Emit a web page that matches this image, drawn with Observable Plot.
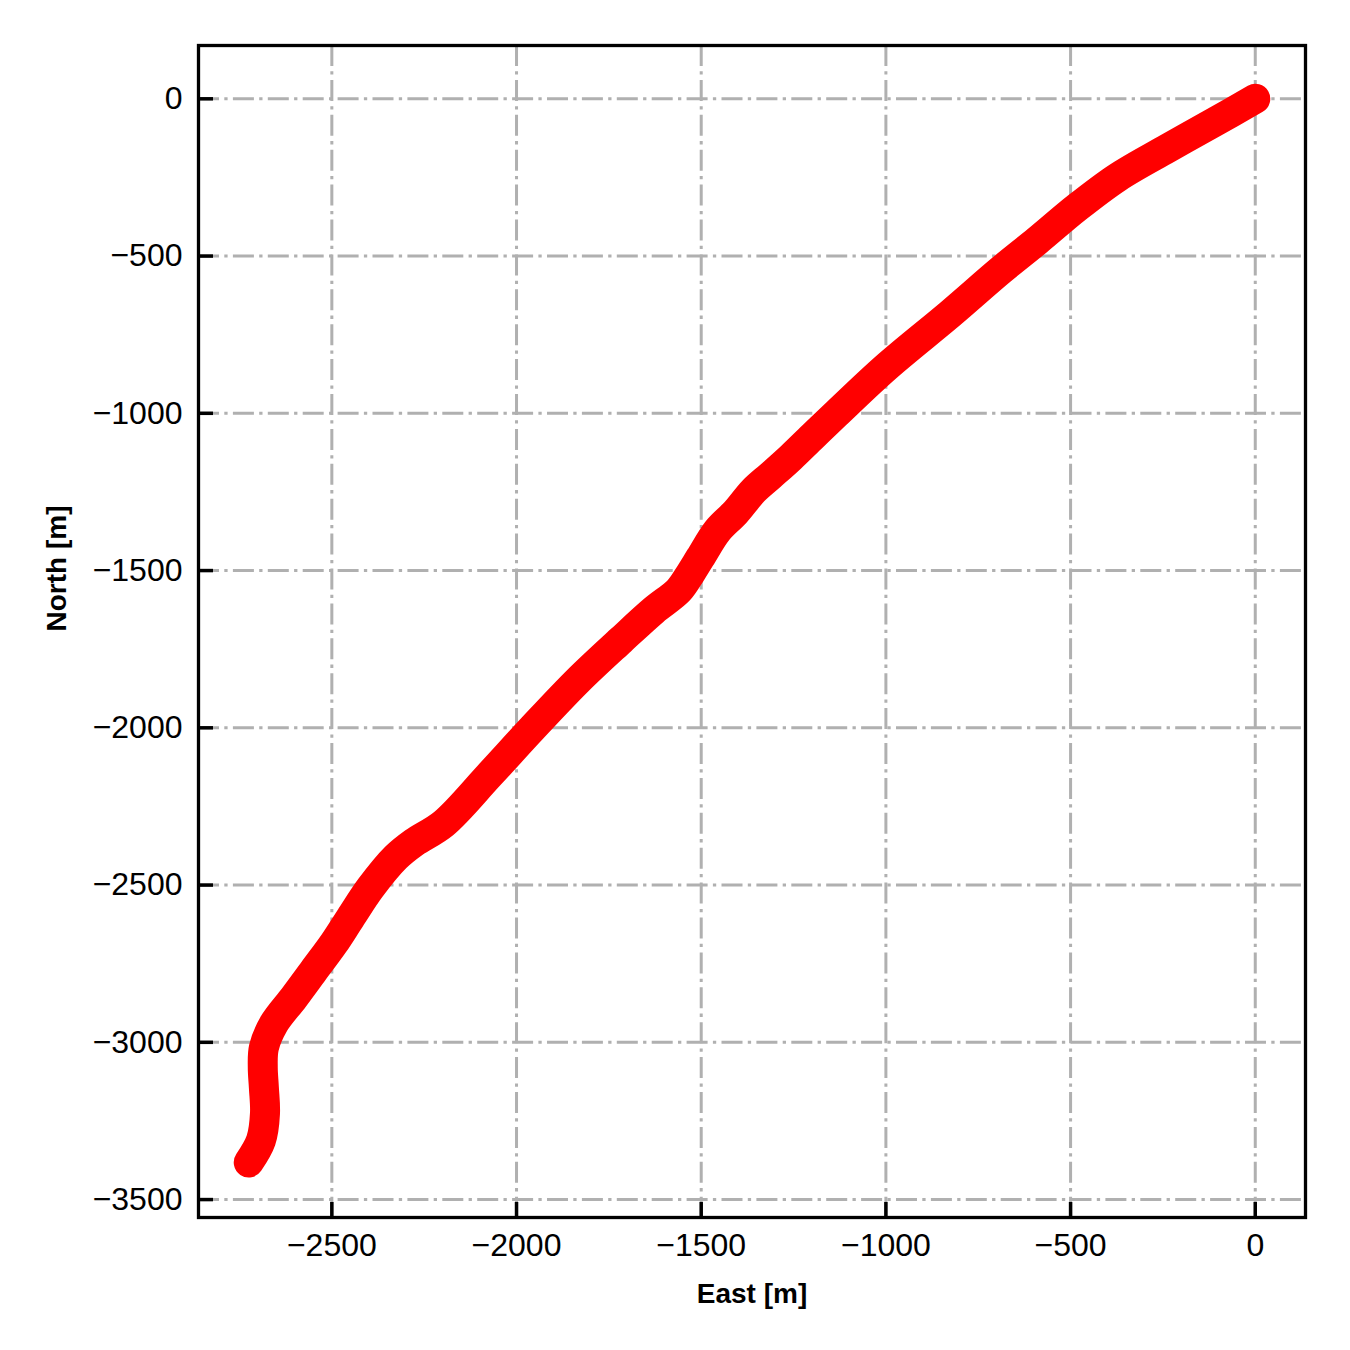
<!DOCTYPE html>
<html>
<head>
<meta charset="utf-8">
<script src="https://cdn.jsdelivr.net/npm/d3@7"></script>
<script src="https://cdn.jsdelivr.net/npm/@observablehq/plot@0.6"></script>
<style>
  html, body { margin: 0; padding: 0; background: white; }
</style>
</head>
<body>
<script>
// Trajectory (East [m], North [m])
const east  = [0, -103, -238, -373, -482, -590, -690, -825, -1001, -1134, -1199, -1258, -1312, -1358, -1407, -1456, -1502, -1529, -1561, -1629, -1718, -1834, -1956, -2075, -2197, -2278, -2327, -2395, -2449, -2495, -2549, -2603, -2657, -2684, -2687, -2684, -2681, -2692, -2725];
const north = [0, -69, -158, -250, -345, -451, -546, -683, -855, -1001, -1074, -1141, -1198, -1246, -1315, -1373, -1458, -1509, -1563, -1627, -1722, -1850, -2000, -2152, -2304, -2365, -2412, -2508, -2603, -2686, -2772, -2858, -2941, -3017, -3080, -3144, -3226, -3312, -3382];

const xTicks = [-2500, -2000, -1500, -1000, -500, 0];
const yTicks = [-3500, -3000, -2500, -2000, -1500, -1000, -500, 0];
const xLabel = "East [m]";
const yLabel = "North [m]";

const data = east.map((e, i) => ({east: e, north: north[i]}));
const fmt = d => (d < 0 ? "\u2212" : "") + Math.abs(d);

const W = 1350, H = 1350;
const mL = 198, mR = 45, mT = 45, mB = 133;
const tickLen = 15;
const frameW = W - mL - mR, frameH = H - mT - mB;

const gridStyle = {stroke: "#b0b0b0", strokeOpacity: 1, strokeWidth: 3, strokeDasharray: "21,5.3,3.3,5.3"};

const chart = Plot.plot({
  width: W,
  height: H,
  marginLeft: mL,
  marginRight: mR,
  marginTop: mT,
  marginBottom: mB,
  style: {fontFamily: "'Liberation Sans', Arial, sans-serif", background: "white", color: "black"},
  x: {domain: [-2861, 136]},
  y: {domain: [-3557, 169.5]},
  marks: [
    Plot.gridX(xTicks, gridStyle),
    Plot.gridY(yTicks, gridStyle),
    Plot.line(data, {x: "east", y: "north", curve: "catmull-rom", stroke: "#ff0000", strokeWidth: 30, strokeLinecap: "round", strokeLinejoin: "round"}),
    Plot.frame({stroke: "black", strokeWidth: 3.3}),
    // inward tick marks
    Plot.ruleX(xTicks, {x: d => d, insetTop: frameH - tickLen, stroke: "black", strokeWidth: 3.5}),
    Plot.ruleY(yTicks, {y: d => d, insetRight: frameW - tickLen, stroke: "black", strokeWidth: 3.5}),
    Plot.axisX(xTicks, {tickSize: 0, tickPadding: 16, fontSize: 32, tickFormat: fmt, label: null}),
    Plot.axisY(yTicks, {tickSize: 0, tickPadding: 16, fontSize: 32, tickFormat: fmt, label: null}),
    Plot.text([xLabel], {frameAnchor: "bottom", dy: 85, lineAnchor: "bottom", fontSize: 28, fontWeight: "bold", fill: "black"}),
    Plot.text([yLabel], {frameAnchor: "left", dx: -133, rotate: -90, lineAnchor: "bottom", fontSize: 28, fontWeight: "bold", fill: "black"})
  ]
});
document.body.appendChild(chart);
</script>
</body>
</html>
